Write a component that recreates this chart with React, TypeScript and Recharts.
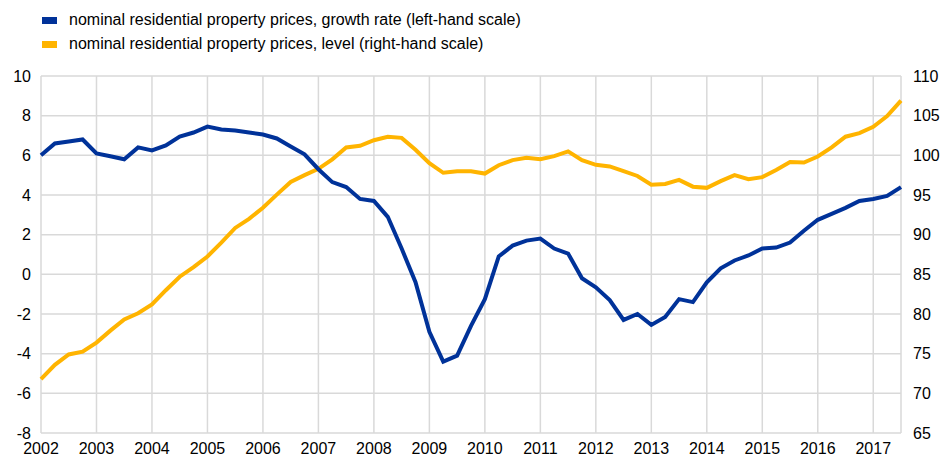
import { LineChart, Line, XAxis, YAxis, CartesianGrid } from "recharts";

const years = [2002, 2003, 2004, 2005, 2006, 2007, 2008, 2009, 2010, 2011, 2012, 2013, 2014, 2015, 2016, 2017];
const leftTicks = [-8, -6, -4, -2, 0, 2, 4, 6, 8, 10];
const rightTicks = [65, 70, 75, 80, 85, 90, 95, 100, 105, 110];

// quarterly, 2002 Q1 - 2017 Q3
const growthRate = [
  6.0, 6.6, 6.7, 6.8,
  6.1, 5.95, 5.8, 6.4,
  6.25, 6.5, 6.95, 7.15,
  7.45, 7.3, 7.25, 7.15,
  7.05, 6.85, 6.45, 6.05,
  5.3, 4.65, 4.4, 3.8,
  3.7, 2.9, 1.3, -0.4,
  -2.9, -4.4, -4.1, -2.6,
  -1.25, 0.9, 1.45, 1.7,
  1.8, 1.3, 1.05, -0.2,
  -0.65, -1.3, -2.3, -2.0,
  -2.55, -2.15, -1.25, -1.4,
  -0.4, 0.3, 0.7, 0.95,
  1.3, 1.35, 1.6, 2.2,
  2.75, 3.05, 3.35, 3.7,
  3.8, 3.95, 4.4,
];

const priceLevel = [
  71.8, 73.6, 74.9, 75.25,
  76.4, 77.9, 79.3, 80.1,
  81.2, 83.0, 84.7, 85.9,
  87.25, 89.0, 90.85, 92.0,
  93.4, 95.05, 96.65, 97.5,
  98.3, 99.5, 101.0, 101.2,
  101.9, 102.35, 102.2, 100.7,
  99.0, 97.8, 98.0, 98.0,
  97.7, 98.75, 99.4, 99.7,
  99.5, 99.9, 100.5, 99.4,
  98.8, 98.6, 98.0, 97.4,
  96.3, 96.4, 96.9, 96.05,
  95.9, 96.75, 97.5, 97.0,
  97.25, 98.15, 99.15, 99.1,
  99.85, 101.0, 102.35, 102.8,
  103.6, 104.95, 106.9,
];

const data = growthRate.map((g, i) => ({
  t: 2002 + i * 0.25,
  growth: g,
  level: priceLevel[i],
}));

const BLUE = "#003299";
const YELLOW = "#FFB400";
const FONT = "'Liberation Sans', Arial, sans-serif";

const legendItems = [
  { label: "nominal residential property prices, growth rate (left-hand scale)", color: BLUE },
  { label: "nominal residential property prices, level (right-hand scale)", color: YELLOW },
];

export default function App() {
  const tick = { fontSize: 16, fill: "#000", fontFamily: FONT };
  return (
    <div style={{ position: "absolute", left: 0, top: 0, width: 941, height: 459, background: "#fff" }}>
      <div style={{ position: "absolute", left: 42, top: 8, fontFamily: FONT, fontSize: 16, color: "#000" }}>
        {legendItems.map((it) => (
          <div key={it.label} style={{ display: "flex", alignItems: "center", height: 24 }}>
            <span style={{ display: "inline-block", width: 15, height: 7, background: it.color, marginRight: 12 }} />
            {it.label}
          </div>
        ))}
      </div>
      <LineChart width={941} height={459} data={data} margin={{ top: 76, right: 0, bottom: 0, left: 0 }}>
        <CartesianGrid yAxisId="left" stroke="#d9d9d9" strokeWidth={1.5} />
        <XAxis
          dataKey="t"
          type="number"
          domain={[2002, 2017.5]}
          ticks={years}
          interval={0}
          axisLine={false}
          tickLine={false}
          tick={tick}
          tickMargin={4}
          height={26}
        />
        <YAxis
          yAxisId="left"
          domain={[-8, 10]}
          ticks={leftTicks}
          interval={0}
          axisLine={false}
          tickLine={false}
          tick={tick}
          width={41}
          tickMargin={4}
        />
        <YAxis
          yAxisId="right"
          orientation="right"
          domain={[65, 110]}
          ticks={rightTicks}
          interval={0}
          axisLine={false}
          tickLine={false}
          tick={{ ...tick, textAnchor: "start" }}
          width={40}
          tickMargin={6}
        />
        <Line
          yAxisId="right"
          dataKey="level"
          stroke={YELLOW}
          strokeWidth={4}
          dot={false}
          isAnimationActive={false}
        />
        <Line
          yAxisId="left"
          dataKey="growth"
          stroke={BLUE}
          strokeWidth={4}
          dot={false}
          isAnimationActive={false}
        />
      </LineChart>
    </div>
  );
}
